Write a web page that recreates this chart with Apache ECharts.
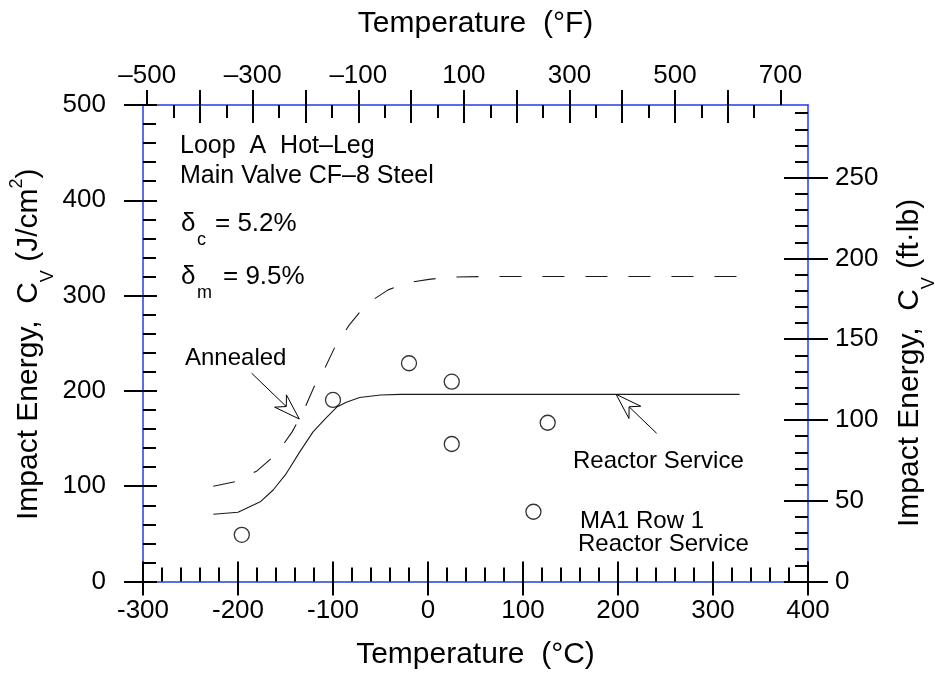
<!DOCTYPE html>
<html>
<head>
<meta charset="utf-8">
<script src="https://cdn.jsdelivr.net/npm/echarts@6/dist/echarts.min.js"></script>
<style>
  html, body { margin: 0; padding: 0; background: #fff; }
  #chart { width: 935px; height: 677px; }
</style>
</head>
<body>
<div id="chart"></div>
<script>
// ---- Charpy impact energy, Loop A hot-leg main valve, CF-8 cast stainless ----

// Annealed material (dashed curve), temperature in °C, energy in J/cm²
const annealedTempC  = [-226, -203, -180, -159, -143, -131, -120, -108, -98, -83, -65, -42, -22, 1, 23, 60, 120, 200, 330];
const annealedEnergy = [100, 104.7, 116, 134.5, 157, 179, 204, 225, 246, 269, 291, 306, 313.5, 317, 319.5, 320, 320, 320, 320];

// Reactor service material (solid curve)
const serviceTempC  = [-226, -200, -176, -163, -149, -135, -121, -108, -96, -86, -72, -50, -29, 0, 100, 200, 328];
const serviceEnergy = [70.5, 72.6, 84, 96, 113.5, 136, 157, 171, 183, 188, 193, 195.7, 196.4, 196.4, 196.4, 196.4, 196.4];

// MA1 Row 1 reactor-service test results (open circles)
const ma1TempC  = [-196, -100, -20, 25, 25, 111, 126];
const ma1Energy = [49, 190.5, 229, 209.7, 144.3, 73.2, 166.6];

// Secondary scales
const fahrenheitLabels = [-500, -300, -100, 100, 300, 500, 700];
const ftlbLabels = [0, 50, 100, 150, 200, 250];

// Unit conversions: °F = 1.8·°C + 32 ; 1 ft·lb over the 0.8 cm² Charpy ligament = 1.6947 J/cm²
const C_MIN = -300, C_MAX = 400, J_MAX = 500;
const J_PER_FTLB = 1.3558 / 0.8;
const toF = c => c * 1.8 + 32;
const F_MIN = toF(C_MIN), F_MAX = toF(C_MAX);
const FTLB_MAX = J_MAX / J_PER_FTLB;

function range(a, b, step) { const out = []; for (let v = a; v <= b + 1e-9; v += step) out.push(v); return out; }
const fMajor = range(-500, 700, 100);
const fInnerLong = range(-400, 600, 100);
const fInnerShort = range(-450, 650, 100);
const ftlbMinor = range(10, 290, 10).filter(v => v % 50 !== 0);

const FONT = '"Liberation Sans", Arial, Helvetica, sans-serif';
const BLUE = '#1f3fe6';
const INK = '#000';
const tickStyle = { color: INK, width: 2 };

const zip = (xs, ys) => xs.map((x, i) => [x, ys[i]]);

function tickOnlyAxis(extra) {
  return Object.assign({
    type: 'value', gridIndex: 0,
    axisLine: { show: false, onZero: false },
    axisLabel: { show: false },
    splitLine: { show: false }
  }, extra);
}

const chart = echarts.init(document.getElementById('chart'), null, { renderer: 'canvas' });

const option = {
  backgroundColor: '#fff',
  animation: false,
  textStyle: { fontFamily: FONT },
  grid: { left: 143, right: 127, top: 105, bottom: 95.5, containLabel: false },
  xAxis: [
    { // °C, labelled bottom axis
      type: 'value', position: 'bottom', min: C_MIN, max: C_MAX, interval: 100,
      name: 'Temperature  (°C)', nameLocation: 'middle', nameGap: 58,
      nameTextStyle: { fontSize: 30, color: INK, fontFamily: FONT },
      axisLine: { show: true, onZero: false, lineStyle: { color: BLUE, width: 1.5 } },
      axisTick: { show: true, inside: false, length: 14, lineStyle: tickStyle },
      axisLabel: { fontSize: 26, color: INK, margin: 16, fontFamily: FONT },
      splitLine: { show: false }
    },
    tickOnlyAxis({ // °C inner ticks
      position: 'bottom', min: C_MIN, max: C_MAX, interval: 100,
      axisTick: { show: true, inside: true, length: 20, lineStyle: tickStyle },
      minorTick: { show: true, splitNumber: 5, length: 14, lineStyle: tickStyle }
    }),
    { // °F, labelled top axis
      type: 'value', position: 'top', min: F_MIN, max: F_MAX,
      name: 'Temperature  (°F)', nameLocation: 'middle', nameGap: 66,
      nameTextStyle: { fontSize: 30, color: INK, fontFamily: FONT },
      axisLine: { show: true, onZero: false, lineStyle: { color: BLUE, width: 1.5 } },
      axisTick: { show: true, inside: false, length: 15, lineStyle: tickStyle, customValues: fMajor },
      axisLabel: { fontSize: 26, color: INK, margin: 16, fontFamily: FONT, customValues: fahrenheitLabels,
                   formatter: v => String(v).replace('-', '\u2013') },
      splitLine: { show: false }
    },
    tickOnlyAxis({
      position: 'top', min: F_MIN, max: F_MAX,
      axisTick: { show: true, inside: true, length: 18, lineStyle: tickStyle, customValues: fInnerLong }
    }),
    tickOnlyAxis({
      position: 'top', min: F_MIN, max: F_MAX,
      axisTick: { show: true, inside: true, length: 13, lineStyle: tickStyle, customValues: fInnerShort }
    })
  ],
  yAxis: [
    { // J/cm², labelled left axis
      type: 'value', position: 'left', min: 0, max: J_MAX, interval: 100,
      axisLine: { show: true, onZero: false, lineStyle: { color: BLUE, width: 1.5 } },
      axisTick: { show: true, inside: false, length: 19, lineStyle: tickStyle },
      axisLabel: { fontSize: 26, color: INK, margin: 37, fontFamily: FONT },
      splitLine: { show: false }
    },
    tickOnlyAxis({
      position: 'left', min: 0, max: J_MAX, interval: 100,
      axisTick: { show: true, inside: true, length: 14, lineStyle: tickStyle },
      minorTick: { show: true, splitNumber: 5, length: 13, lineStyle: tickStyle }
    }),
    { // ft·lb, labelled right axis
      type: 'value', position: 'right', min: 0, max: FTLB_MAX,
      axisLine: { show: true, onZero: false, lineStyle: { color: BLUE, width: 1.5 } },
      axisTick: { show: true, inside: false, length: 20, lineStyle: tickStyle, customValues: ftlbLabels },
      axisLabel: { fontSize: 26, color: INK, margin: 27, fontFamily: FONT, customValues: ftlbLabels },
      splitLine: { show: false }
    },
    tickOnlyAxis({
      position: 'right', min: 0, max: FTLB_MAX,
      axisTick: { show: true, inside: true, length: 24, lineStyle: tickStyle, customValues: ftlbLabels }
    }),
    tickOnlyAxis({
      position: 'right', min: 0, max: FTLB_MAX,
      axisTick: { show: true, inside: true, length: 13, lineStyle: tickStyle, customValues: ftlbMinor }
    })
  ],
  series: [
    {
      name: 'Annealed', type: 'line', xAxisIndex: 0, yAxisIndex: 0,
      data: zip(annealedTempC, annealedEnergy),
      showSymbol: false, smooth: false, z: 3,
      lineStyle: { color: '#1a1a1a', width: 1.1, type: [22, 21] }
    },
    {
      name: 'Reactor Service', type: 'line', xAxisIndex: 0, yAxisIndex: 0,
      data: zip(serviceTempC, serviceEnergy),
      showSymbol: false, smooth: false, z: 3,
      lineStyle: { color: '#1a1a1a', width: 1.1 }
    },
    {
      name: 'MA1 Row 1', type: 'scatter', xAxisIndex: 0, yAxisIndex: 0,
      data: zip(ma1TempC, ma1Energy),
      symbol: 'circle', symbolSize: 15, z: 4,
      itemStyle: { color: 'rgba(255,255,255,0)', borderColor: INK, borderWidth: 1.3 }
    }
  ]
};

chart.setOption(option);

// ---- text helpers ----
const measureCtx = document.createElement('canvas').getContext('2d');
function textWidth(t, size) {
  measureCtx.font = size + 'px "Liberation Sans", Arial, sans-serif';
  return measureCtx.measureText(t).width;
}

function plainText(x, y, text, size, extra) {
  return Object.assign({ type: 'text', x: x, y: y, z: 12,
    style: { text: text, fontSize: size, fontFamily: FONT, fill: INK,
             align: 'left', verticalAlign: 'middle', textAlign: 'left', textVerticalAlign: 'middle' } }, extra || {});
}

// A run of text pieces with per-piece size and baseline shift (sub/superscripts).
function textRun(parts) {
  const out = [];
  let cx = 0;
  parts.forEach(p => {
    out.push(plainText(cx, p.dy || 0, p.text, p.size));
    cx += textWidth(p.text, p.size);
  });
  return out;
}

// Vertical axis title, reading bottom-to-top, starting at (x, y)
function verticalTitle(x, y, unit) {
  const parts = [
    { text: 'Impact Energy,  C', size: 30 },
    { text: 'V', size: 18, dy: 19 },
    { text: ' (' + unit.main, size: 30 }
  ];
  if (unit.sup) {
    parts.push({ text: unit.sup, size: 18, dy: -11.5 });
    parts.push({ text: ')', size: 30 });
  }
  return { type: 'group', x: x, y: y, rotation: Math.PI / 2, z: 12, children: textRun(parts) };
}

function deltaLabel(x, y, sub, rest, restX) {
  return [
    plainText(x, y, 'δ', 26),
    plainText(x + 16, y + 16, sub, 18),
    plainText(restX, y, rest, 26)
  ];
}

// ---- annotations: open arrows pointing at the curves ----
const annotationArrows = [
  { from: [-185.6, 218.5], to: [-135.5, 170.5] }, // "Annealed"
  { from: [240.7, 155.5], to: [198.0, 196.4] }    // "Reactor Service"
];

function arrowGraphics(a) {
  const p0 = chart.convertToPixel({ xAxisIndex: 0, yAxisIndex: 0 }, a.from);
  const p1 = chart.convertToPixel({ xAxisIndex: 0, yAxisIndex: 0 }, a.to);
  const dx = p1[0] - p0[0], dy = p1[1] - p0[1];
  const len = Math.hypot(dx, dy);
  const ux = dx / len, uy = dy / len;       // along the shaft
  const nx = -uy, ny = ux;                  // perpendicular
  const L = 26, W = 8.5, N = 18;
  const base = [p1[0] - ux * L, p1[1] - uy * L];
  const notch = [p1[0] - ux * N, p1[1] - uy * N];
  return [
    { type: 'polyline', z: 10, shape: { points: [p0, notch] }, style: { stroke: INK, lineWidth: 1, fill: null } },
    { type: 'polygon', z: 11, shape: { points: [
        p1,
        [base[0] + nx * W, base[1] + ny * W],
        notch,
        [base[0] - nx * W, base[1] - ny * W]
      ] }, style: { fill: '#fff', stroke: INK, lineWidth: 1 } }
  ];
}

const graphics = []
  .concat(arrowGraphics(annotationArrows[0]))
  .concat(arrowGraphics(annotationArrows[1]))
  .concat([
    verticalTitle(29, 520, { main: 'J/cm', sup: '2' }),
    verticalTitle(910, 527, { main: 'ft\u00b7lb)' }),
    plainText(180, 146, 'Loop  A  Hot\u2013Leg', 25),
    plainText(180, 176, 'Main Valve CF\u20138 Steel', 25)
  ])
  .concat(deltaLabel(181, 224, 'c', '= 5.2%', 215))
  .concat(deltaLabel(181, 277, 'm', '= 9.5%', 223))
  .concat([
    plainText(185, 358, 'Annealed', 24),
    plainText(573, 461, 'Reactor Service', 24),
    plainText(580, 521, 'MA1 Row 1', 24),
    plainText(578, 544, 'Reactor Service', 24)
  ]);

chart.setOption({ graphic: graphics });
</script>
</body>
</html>
